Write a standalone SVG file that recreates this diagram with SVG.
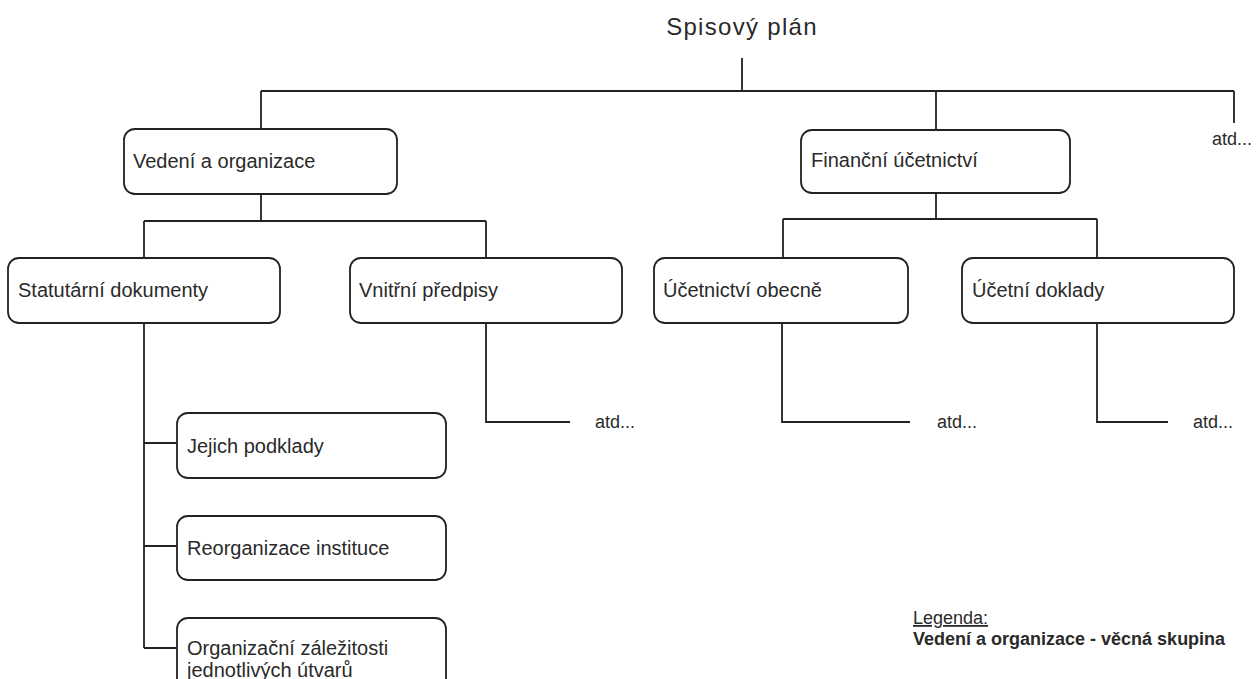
<svg xmlns="http://www.w3.org/2000/svg" width="1258" height="679" viewBox="0 0 1258 679">
<style>
.box{fill:#fff;stroke:#222;stroke-width:1.8}
.ln{fill:none;stroke:#222;stroke-width:1.8}
.t{font-family:"Liberation Sans",Arial,sans-serif;font-size:20px;fill:#2a2a2a}
.s{font-family:"Liberation Sans",Arial,sans-serif;font-size:18px;fill:#2a2a2a}
.b{font-family:"Liberation Sans",Arial,sans-serif;font-size:18px;font-weight:bold;fill:#2a2a2a}
</style>
<rect width="1258" height="679" fill="#fff"/>
<g id="connectors">
<path class="ln" d="M742 58V91M261 91H1234M261 91V129M936 91V130M1234 91V123"/>
<path class="ln" d="M261 194V221M144 221H486M144 221V258M486 221V258"/>
<path class="ln" d="M936 193V219M783 219H1097M783 219V258M1097 219V258"/>
<path class="ln" d="M144 323V648M144 443H177M144 546H177M144 648H177"/>
<path class="ln" d="M486 323V422H570M782 323V422H910M1097 323V422H1168"/>
</g>
<g id="title"><text class="t" x="742" y="35" text-anchor="middle" style="font-size:24px;letter-spacing:1.3px">Spisový plán</text></g>
<g id="n-vedeni"><rect class="box" x="124" y="129" width="273" height="65" rx="11"/><text class="t" x="133" y="168">Vedení a organizace</text></g>
<g id="n-financni"><rect class="box" x="801" y="130" width="269" height="63" rx="11"/><text class="t" x="811" y="167">Finanční účetnictví</text></g>
<g id="n-atd-top"><text class="s" x="1212" y="145">atd...</text></g>
<g id="n-statutarni"><rect class="box" x="8" y="258" width="272" height="65" rx="11"/><text class="t" x="18" y="297">Statutární dokumenty</text></g>
<g id="n-vnitrni"><rect class="box" x="350" y="258" width="272" height="65" rx="11"/><text class="t" x="359" y="297">Vnitřní předpisy</text></g>
<g id="n-ucetnictvi"><rect class="box" x="654" y="258" width="254" height="65" rx="11"/><text class="t" x="663" y="297">Účetnictví obecně</text></g>
<g id="n-doklady"><rect class="box" x="962" y="258" width="272" height="65" rx="11"/><text class="t" x="972" y="297">Účetní doklady</text></g>
<g id="n-atd1"><text class="s" x="595" y="428">atd...</text></g>
<g id="n-atd2"><text class="s" x="937" y="428">atd...</text></g>
<g id="n-atd3"><text class="s" x="1193" y="428">atd...</text></g>
<g id="n-podklady"><rect class="box" x="177" y="413" width="269" height="65" rx="11"/><text class="t" x="187" y="453">Jejich podklady</text></g>
<g id="n-reorganizace"><rect class="box" x="177" y="516" width="269" height="64" rx="11"/><text class="t" x="187" y="555">Reorganizace instituce</text></g>
<g id="n-zalezitosti"><rect class="box" x="177" y="618" width="269" height="80" rx="11"/><text class="t" x="187" y="655">Organizační záležitosti</text><text class="t" x="187" y="677">jednotlivých útvarů</text></g>
<g id="legend"><text class="s" x="913" y="624" text-decoration="underline">Legenda:</text><text class="b" x="913" y="645">Vedení a organizace - věcná skupina</text></g>
</svg>
